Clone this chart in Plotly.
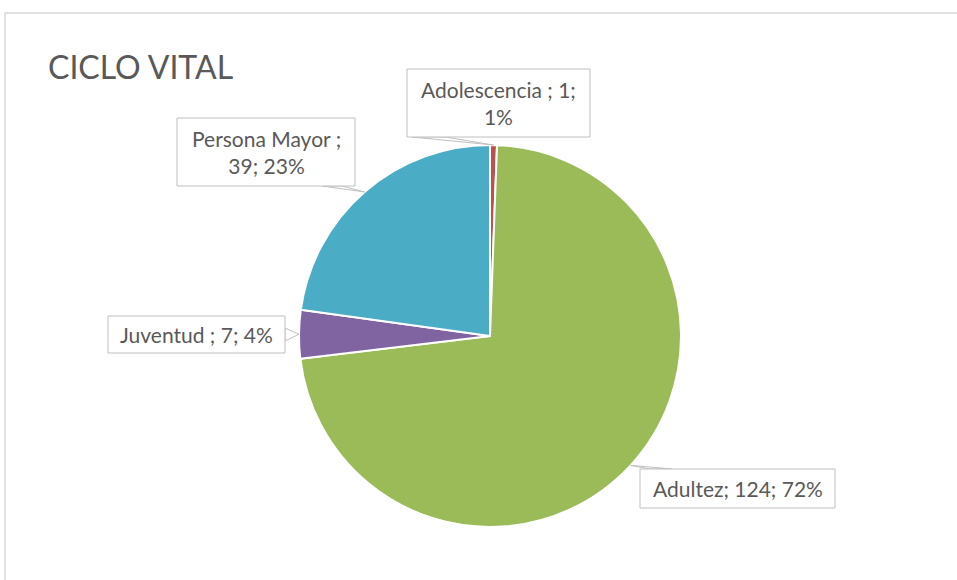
import math
import plotly.graph_objects as go

# ---- data ----
categories = ["Adolescencia", "Adultez", "Juventud", "Persona Mayor"]
values = [1, 124, 7, 39]
pct_labels = ["1%", "72%", "4%", "23%"]
colors = ["#C0504D", "#9BBB59", "#8064A2", "#4BACC6"]
title_text = "CICLO VITAL"

W, H = 957, 580
FONT = "Lato"
TXT = "#595959"
BOX = "#BFBFBF"

def fx(px):
    return px / W

def fy(py):
    return 1 - py / H

# pie placement (window pixels)
CX, CY, R = 490, 336, 191

fig = go.Figure(go.Pie(
    labels=categories, values=values, sort=False, direction="clockwise",
    rotation=0, marker=dict(colors=colors, line=dict(color="white", width=2)),
    textinfo="none", showlegend=False, hole=0,
    domain=dict(x=[fx(CX - R), fx(CX + R)], y=[fy(CY + R), fy(CY - R)]),
))

# slice mid-angle anchor points derived from the data
total = sum(values)
tips = []
cum = 0
for v in values:
    mid = (cum + v / 2) / total * 2 * math.pi
    tips.append((CX + R * math.sin(mid), CY - R * math.cos(mid)))
    cum += v

label_texts = [
    f"{categories[0]} ; {values[0]};<br>{pct_labels[0]}",
    f"{categories[1]}; {values[1]}; {pct_labels[1]}",
    f"{categories[2]} ; {values[2]}; {pct_labels[2]}",
    f"{categories[3]} ;<br>{values[3]}; {pct_labels[3]}",
]
# boxes: (x0, y0, x1, y1), pointer base points
boxes = [
    ((407, 69, 590, 137), [(412, 137), (445, 137)]),
    ((640, 469, 835, 508), [(650, 469), (672, 469)]),
    ((108, 316, 285, 353), [(285, 328), (285, 341)]),
    ((177, 118, 355, 186), [(322, 186), (342, 186)]),
]

shapes = []
# chart border
shapes.append(dict(type="rect", xref="paper", yref="paper",
                   x0=fx(5), y0=fy(H + 40), x1=fx(W + 40), y1=fy(13),
                   line=dict(color="#D9D9D9", width=1.5), fillcolor="rgba(0,0,0,0)",
                   layer="below"))
annotations = []
for i, ((x0, y0, x1, y1), base) in enumerate(boxes):
    tx, ty = tips[i]
    (bx0, by0), (bx1, by1) = base
    path = (f"M {fx(bx0)},{fy(by0)} L {fx(tx)},{fy(ty)} L {fx(bx1)},{fy(by1)} Z")
    shapes.append(dict(type="path", xref="paper", yref="paper", path=path,
                       line=dict(color=BOX, width=1), fillcolor="white", layer="above"))
    shapes.append(dict(type="rect", xref="paper", yref="paper",
                       x0=fx(x0), y0=fy(y1), x1=fx(x1), y1=fy(y0),
                       line=dict(color=BOX, width=1), fillcolor="white", layer="above"))
    annotations.append(dict(x=fx((x0 + x1) / 2), y=fy((y0 + y1) / 2), xref="paper", yref="paper",
                            text=label_texts[i], showarrow=False, xanchor="center",
                            yanchor="middle", align="center",
                            font=dict(family=FONT, size=21, color=TXT)))

annotations.append(dict(x=fx(46), y=fy(66), xref="paper", yref="paper", text=title_text,
                        showarrow=False, xanchor="left", yanchor="middle",
                        font=dict(family=FONT, size=32, color=TXT)))

fig.update_layout(width=W, height=H, autosize=False,
                  margin=dict(l=0, r=0, t=0, b=0),
                  paper_bgcolor="white", plot_bgcolor="white",
                  shapes=shapes, annotations=annotations)

fig.write_html("out.html", config={"displayModeBar": False},
               post_script="document.body.style.margin='0';document.body.style.overflow='hidden';")
